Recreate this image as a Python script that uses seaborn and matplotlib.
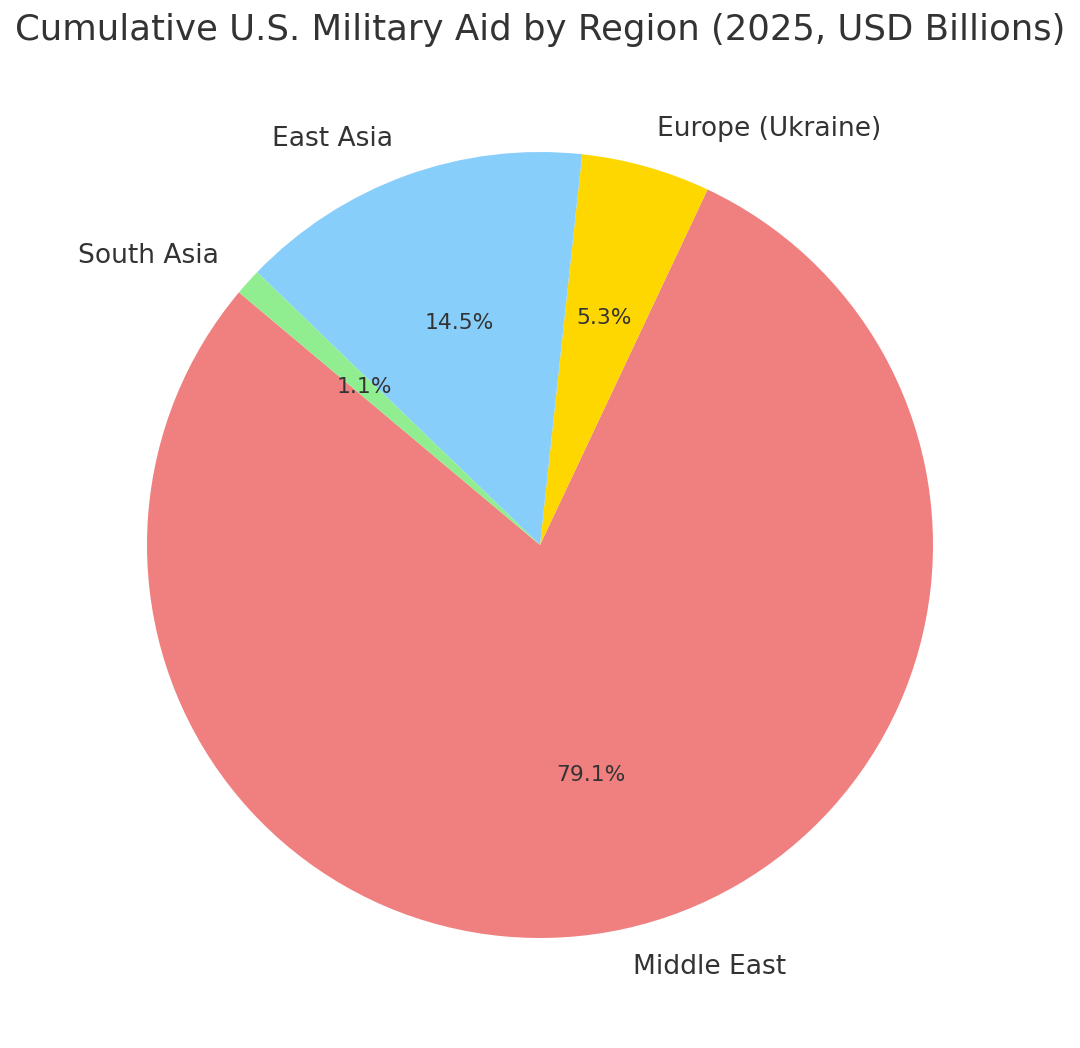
import matplotlib
matplotlib.use("Agg")
import matplotlib.pyplot as plt
import seaborn as sns

# data (shares, %)
regions = ["Middle East", "Europe (Ukraine)", "East Asia", "South Asia"]
aid_share = [79.1, 5.3, 14.5, 1.1]
slice_colors = ["lightcoral", "gold", "lightskyblue", "lightgreen"]

sns.set_theme(style="white")
plt.rcParams["font.family"] = ["DejaVu Sans"]
plt.rcParams["text.color"] = "#333333"

fig = plt.figure(figsize=(10.8, 10.48), dpi=100)
# pie radius ~393px centred at (540, 545) from top
w = 2.5 * 393
ax = fig.add_axes([(540 - w / 2) / 1080, (1048 - 545 - w / 2) / 1048, w / 1080, w / 1048])

wedges, texts, autotexts = ax.pie(
    aid_share, labels=regions, colors=slice_colors,
    autopct="%1.1f%%", startangle=140,
    wedgeprops={"linewidth": 0, "edgecolor": "none"},
    textprops={"fontsize": 19.1, "color": "#333333"},
)
for t in autotexts:
    t.set_fontsize(15.7)

ax.set_xlim(-1.25, 1.25)
ax.set_ylim(-1.25, 1.25)
ax.set_aspect("equal")
ax.axis("off")

fig.text(0.5, 1 - 30 / 1048, "Cumulative U.S. Military Aid by Region (2025, USD Billions)",
         ha="center", va="center", fontsize=25.55, color="#333333")

fig.savefig("out.png", dpi=100, facecolor="white")
